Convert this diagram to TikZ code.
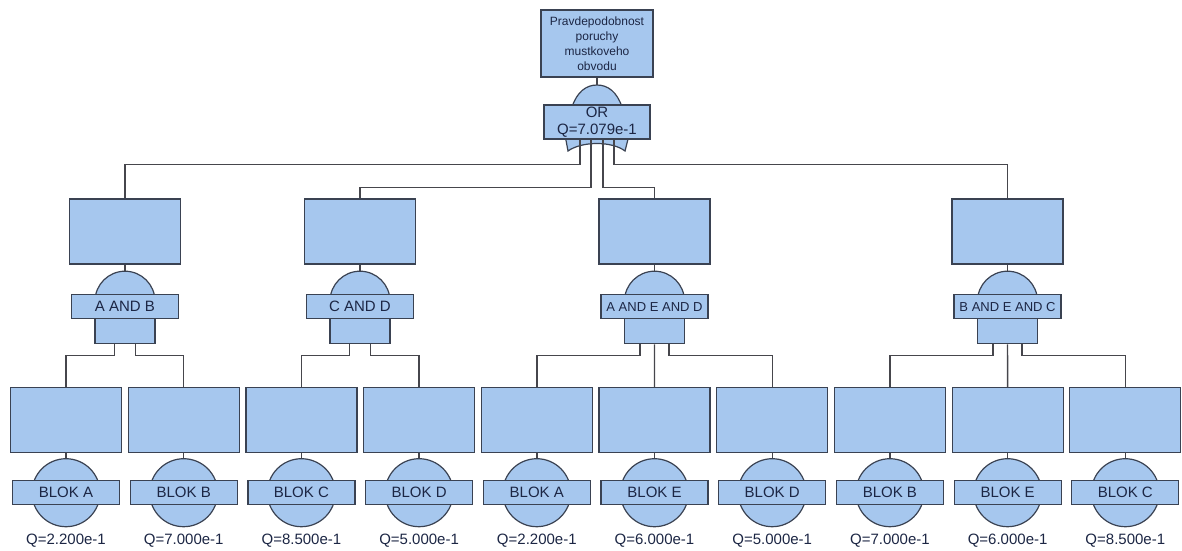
\documentclass[tikz,border=0pt]{standalone}
\usepackage{fontspec}
\setmainfont{Liberation Sans}
\usepackage{xcolor}
\usetikzlibrary{positioning}

\definecolor{gatefill}{RGB}{166,199,238}
\definecolor{edgecol}{RGB}{58,66,82}
\definecolor{wirecol}{RGB}{70,70,76}
\definecolor{labelcol}{RGB}{28,38,68}

\begin{document}
\begin{tikzpicture}[x=1pt, y=1pt]

\tikzstyle{event} = [rectangle, minimum width=111pt, minimum height=65pt, draw=edgecol, fill=gatefill, line width=1.2pt]
\tikzstyle{basic} = [circle, minimum size=68pt, draw=edgecol, fill=gatefill, line width=1.2pt]
\tikzstyle{dome} = [circle, minimum size=60pt, draw=edgecol, fill=gatefill, line width=1.2pt]
\tikzstyle{gatebody} = [rectangle, minimum width=60pt, minimum height=42pt, draw=edgecol, fill=gatefill, line width=1.2pt]
\tikzstyle{band} = [rectangle, minimum width=107pt, minimum height=24pt, inner sep=0pt, draw=edgecol, fill=gatefill, line width=1.2pt, text=labelcol, font=\fontsize{15}{17}\selectfont]
\tikzstyle{qlabel} = [inner sep=0pt, text=labelcol, font=\fontsize{15}{17}\selectfont]
\tikzstyle{wire} = [line width=1.4pt, draw=wirecol]

\useasboundingbox (0,0) rectangle (1182,-550);

% Top event and OR gate
\node (top) [event, minimum width=112pt, minimum height=67pt, align=center, text=labelcol, font=\fontsize{12}{15}\selectfont] at (597,-43.5) {Pravdepodobnost\\poruchy\\mustkoveho\\obvodu};
\draw [draw=edgecol, fill=gatefill, line width=1.2pt] (568,-151) -- (565,-135) -- (572,-107) .. controls (577,-92) and (586,-85) .. (597,-85) .. controls (608,-85) and (617,-92) .. (622,-107) -- (629,-135) -- (625,-151) .. controls (612,-141) and (582,-141) .. (568,-151) -- cycle;
\coordinate (ortop) at (597,-85);
\node (orgate) [band, minimum width=106pt, minimum height=34pt, align=center] at (597,-122) {OR\\Q=7.079e-1};

% Intermediate events
\node (m1) [event] at (125,-231.5) {};
\node (m1dome) [dome, below=6pt of m1] {};
\node (m1body) [gatebody, below=0pt of m1dome.center] {};
\node (m1gate) [band, yshift=-5.5pt] at (m1dome.center) {A AND B};

\node (m2) [event] at (360,-231.5) {};
\node (m2dome) [dome, below=6pt of m2] {};
\node (m2body) [gatebody, below=0pt of m2dome.center] {};
\node (m2gate) [band, yshift=-5.5pt] at (m2dome.center) {C AND D};

\node (m3) [event] at (654.5,-231.5) {};
\node (m3dome) [dome, below=6pt of m3] {};
\node (m3body) [gatebody, below=0pt of m3dome.center] {};
\node (m3gate) [band, yshift=-5.5pt, font=\fontsize{13}{15}\selectfont] at (m3dome.center) {A AND E AND D};

\node (m4) [event] at (1007.5,-231.5) {};
\node (m4dome) [dome, below=6pt of m4] {};
\node (m4body) [gatebody, below=0pt of m4dome.center] {};
\node (m4gate) [band, yshift=-5.5pt, font=\fontsize{13}{15}\selectfont] at (m4dome.center) {B AND E AND C};

% Basic events
\node (b1) [event] at (66,-420) {};
\node (b2) [event, right=5.5pt of b1] {};
\node (b3) [event, right=5.5pt of b2] {};
\node (b4) [event, right=5.5pt of b3] {};
\node (b5) [event, right=5.5pt of b4] {};
\node (b6) [event, right=5.5pt of b5] {};
\node (b7) [event, right=5.5pt of b6] {};
\node (b8) [event, right=5.5pt of b7] {};
\node (b9) [event, right=5.5pt of b8] {};
\node (b10) [event, right=5.5pt of b9] {};

\node (c1) [basic, below=5pt of b1] {};
\node (c2) [basic, below=5pt of b2] {};
\node (c3) [basic, below=5pt of b3] {};
\node (c4) [basic, below=5pt of b4] {};
\node (c5) [basic, below=5pt of b5] {};
\node (c6) [basic, below=5pt of b6] {};
\node (c7) [basic, below=5pt of b7] {};
\node (c8) [basic, below=5pt of b8] {};
\node (c9) [basic, below=5pt of b9] {};
\node (c10) [basic, below=5pt of b10] {};

\node (l1) [band] at (c1) {BLOK A};
\node (l2) [band] at (c2) {BLOK B};
\node (l3) [band] at (c3) {BLOK C};
\node (l4) [band] at (c4) {BLOK D};
\node (l5) [band] at (c5) {BLOK A};
\node (l6) [band] at (c6) {BLOK E};
\node (l7) [band] at (c7) {BLOK D};
\node (l8) [band] at (c8) {BLOK B};
\node (l9) [band] at (c9) {BLOK E};
\node (l10) [band] at (c10) {BLOK C};

\node (q1) [qlabel, below=7pt of c1] {Q=2.200e-1};
\node (q2) [qlabel, below=7pt of c2] {Q=7.000e-1};
\node (q3) [qlabel, below=7pt of c3] {Q=8.500e-1};
\node (q4) [qlabel, below=7pt of c4] {Q=5.000e-1};
\node (q5) [qlabel, below=7pt of c5] {Q=2.200e-1};
\node (q6) [qlabel, below=7pt of c6] {Q=6.000e-1};
\node (q7) [qlabel, below=7pt of c7] {Q=5.000e-1};
\node (q8) [qlabel, below=7pt of c8] {Q=7.000e-1};
\node (q9) [qlabel, below=7pt of c9] {Q=6.000e-1};
\node (q10) [qlabel, below=7pt of c10] {Q=8.500e-1};

% Lines
\draw [wire] (top) -- (ortop);
\draw [wire] ([xshift=-17pt]orgate.south) -- ++(0,-25pt) -| (m1.north);
\draw [wire] ([xshift=-6pt]orgate.south) -- ++(0,-48pt) -| (m2.north);
\draw [wire] ([xshift=6pt]orgate.south) -- ++(0,-48pt) -| (m3.north);
\draw [wire] ([xshift=17pt]orgate.south) -- ++(0,-25pt) -| (m4.north);

\draw [wire] (m1) -- (m1dome);
\draw [wire] (m2) -- (m2dome);
\draw [wire] (m3) -- (m3dome);
\draw [wire] (m4) -- (m4dome);

\draw [wire] ([xshift=-10.5pt]m1body.south) -- ++(0,-11pt) -| (b1.north);
\draw [wire] ([xshift=10.5pt]m1body.south) -- ++(0,-11pt) -| (b2.north);
\draw [wire] ([xshift=-10.5pt]m2body.south) -- ++(0,-11pt) -| (b3.north);
\draw [wire] ([xshift=10.5pt]m2body.south) -- ++(0,-11pt) -| (b4.north);
\draw [wire] ([xshift=-14.5pt]m3body.south) -- ++(0,-11pt) -| (b5.north);
\draw [wire] (m3body) -- (b6);
\draw [wire] ([xshift=14.5pt]m3body.south) -- ++(0,-11pt) -| (b7.north);
\draw [wire] ([xshift=-14.5pt]m4body.south) -- ++(0,-11pt) -| (b8.north);
\draw [wire] (m4body) -- (b9);
\draw [wire] ([xshift=14.5pt]m4body.south) -- ++(0,-11pt) -| (b10.north);

\draw [wire] (b1) -- (c1);
\draw [wire] (b2) -- (c2);
\draw [wire] (b3) -- (c3);
\draw [wire] (b4) -- (c4);
\draw [wire] (b5) -- (c5);
\draw [wire] (b6) -- (c6);
\draw [wire] (b7) -- (c7);
\draw [wire] (b8) -- (c8);
\draw [wire] (b9) -- (c9);
\draw [wire] (b10) -- (c10);

\end{tikzpicture}
\end{document}
